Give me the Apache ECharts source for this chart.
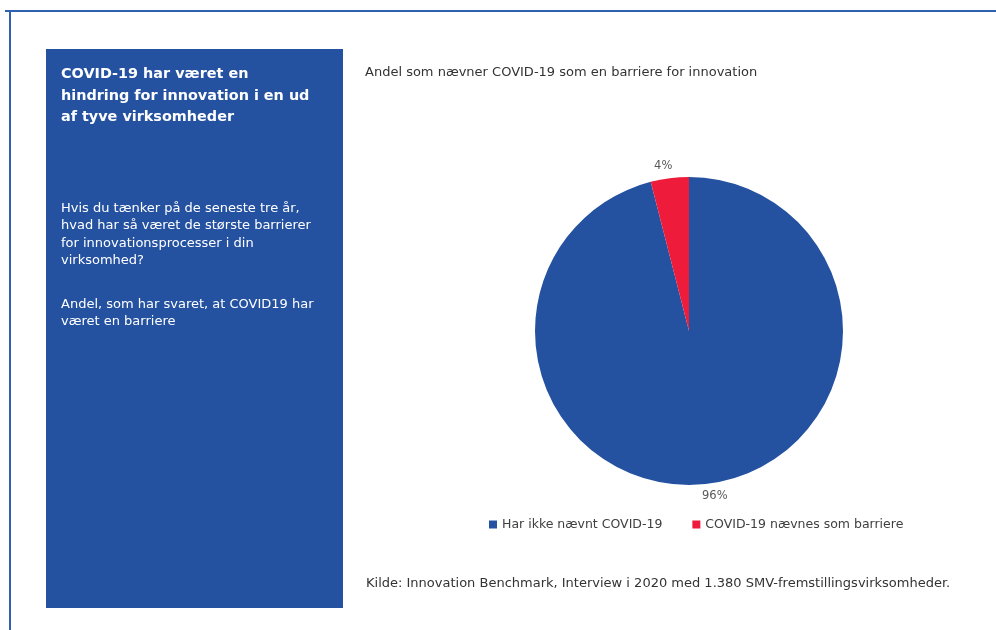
<!DOCTYPE html>
<html><head><meta charset="utf-8">
<script src="https://cdn.jsdelivr.net/npm/echarts@6/dist/echarts.min.js"></script>
<style>html,body{margin:0;padding:0;background:#fff}#c{width:996px;height:630px}</style>
</head><body><div id="c"></div>
<script>
const categories = ['Har ikke nævnt COVID-19', 'COVID-19 nævnes som barriere'];
const values = [96, 4];
const colors = ['#2452A0', '#EE1B3A'];
const chartTitle = 'Andel som nævner COVID-19 som en barriere for innovation';
const panelTitle = 'COVID-19 har været en\nhindring for innovation i en ud\naf tyve virksomheder';
const panelBody1 = 'Hvis du tænker på de seneste tre år,\nhvad har så været de største barrierer\nfor innovationsprocesser i din\nvirksomhed?';
const panelBody2 = 'Andel, som har svaret, at COVID19 har\nværet en barriere';
const source = 'Kilde: Innovation Benchmark, Interview i 2020 med 1.380 SMV-fremstillingsvirksomheder.';

const font = '"DejaVu Sans", Verdana, sans-serif';
const chart = echarts.init(document.getElementById('c'));
chart.setOption({
  backgroundColor: '#fff',
  animation: false,
  color: colors,
  graphic: [
    { type: 'rect', shape: { x: 5, y: 10, width: 991, height: 2 }, style: { fill: '#2E62B0' }, silent: true },
    { type: 'rect', shape: { x: 9, y: 10, width: 2, height: 620 }, style: { fill: '#2E62B0' }, silent: true },
    { type: 'rect', shape: { x: 46, y: 49, width: 297, height: 559 }, style: { fill: '#2452A0' }, silent: true },
    { type: 'text', left: 61, top: 64, style: { text: panelTitle, fill: '#fff', font: 'bold 14.4px ' + font, lineHeight: 21.5 } },
    { type: 'text', left: 61, top: 200, style: { text: panelBody1, fill: '#fff', font: '13px ' + font, lineHeight: 17.3 } },
    { type: 'text', left: 61, top: 296, style: { text: panelBody2, fill: '#fff', font: '13px ' + font, lineHeight: 17.3 } },
    { type: 'text', left: 366, top: 577, style: { text: source, fill: '#333', font: '13px ' + font } }
  ],
  title: {
    text: chartTitle, left: 360, top: 61,
    textStyle: { fontFamily: font, fontSize: 13, fontWeight: 'normal', color: '#333' }
  },
  legend: {
    data: categories, top: 513, left: 484,
    itemWidth: 8, itemHeight: 8, icon: 'rect', itemGap: 30,
    textStyle: { fontFamily: font, fontSize: 12.5, color: '#404040' }
  },
  series: [{
    type: 'pie',
    center: [689, 331],
    radius: 154,
    startAngle: 90,
    clockwise: true,
    avoidLabelOverlap: false,
    label: {
      show: true, position: 'outside', formatter: '{d}%',
      fontFamily: font, fontSize: 11.5, color: '#595959'
    },
    labelLine: { show: false, length: 12, length2: 0 },
    labelLayout: function () { return { align: 'center', verticalAlign: 'middle' }; },
    itemStyle: { borderWidth: 0 },
    emphasis: { disabled: true },
    data: categories.map((n, i) => ({ name: n, value: values[i] }))
  }]
});
</script></body></html>
